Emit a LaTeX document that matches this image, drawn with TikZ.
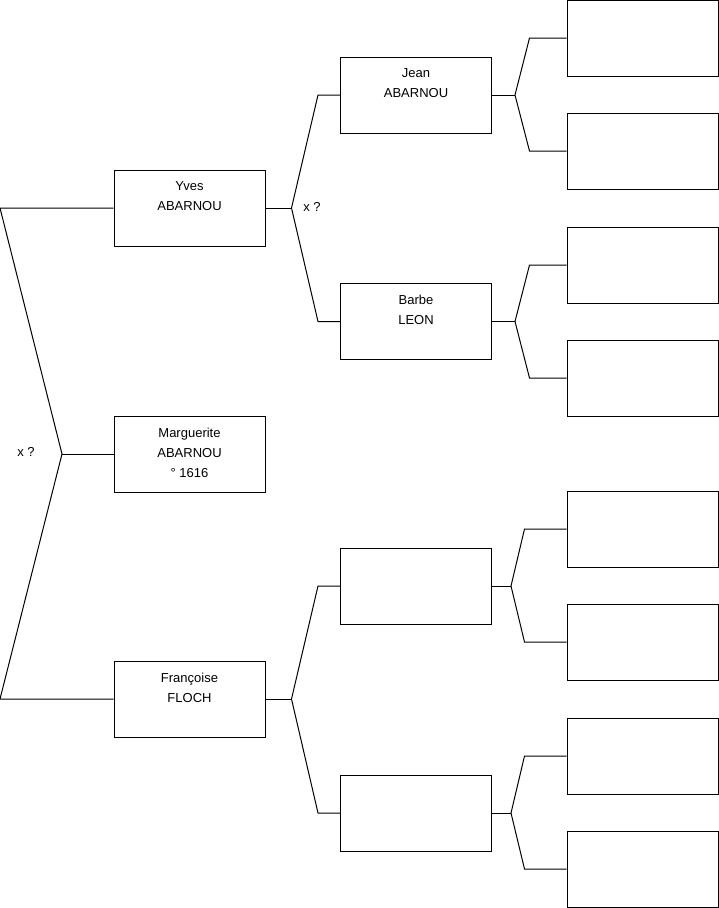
\documentclass[tikz,border=0pt]{standalone}
\usepackage{fontspec}
\setmainfont{Liberation Sans}
\usetikzlibrary{positioning}
\newcommand{\pers}[1]{\parbox[c][76pt][t]{151pt}{\centering\vspace*{12pt}#1}}
\tikzset{
 box/.style={draw, line width=1pt, minimum width=151pt, minimum height=76pt, inner sep=0pt, font=\fontsize{13}{20}\selectfont},
 link/.style={line width=1pt},
 mark x/.style={font=\fontsize{13}{16}\selectfont, inner sep=0pt},
}
\begin{document}
\begin{tikzpicture}[x=1pt, y=-1pt]
 \useasboundingbox (0,0) rectangle (719,908);
 % generation 1
 \node[box] (yves) at (189.5,208) {\pers{Yves\\ABARNOU}};
 \node[box] (marg) at (189.5,454) {\pers{Marguerite\\ABARNOU\\° 1616}};
 \node[box] (franc) at (189.5,699) {\pers{Françoise\\FLOCH}};
 % generation 2
 \node[box] (jean) at (416,95) {\pers{Jean\\ABARNOU}};
 \node[box] (barbe) at (416,321.5) {\pers{Barbe\\LEON}};
 \node[box] (pf1) at (416,586) {};
 \node[box] (pf2) at (416,813) {};
 % generation 3
 \node[box] (r1) at (642.5,38) {};
 \node[box] (r2) at (642.5,151) {};
 \node[box] (r3) at (642.5,265) {};
 \node[box] (r4) at (642.5,378) {};
 \node[box] (r5) at (642.5,529) {};
 \node[box] (r6) at (642.5,642) {};
 \node[box] (r7) at (642.5,756) {};
 \node[box] (r8) at (642.5,869) {};
 % forks
 \coordinate (f0) at (62,454);
 \coordinate (fy) at (291.5,208);
 \coordinate (ff) at (291.5,699);
 \coordinate (fj) at (515,95);
 \coordinate (fb) at (515,321.5);
 \coordinate (f1) at (511,586);
 \coordinate (f2) at (511,813);
 \draw[link] (yves.west) -- (0,208) -- (f0) -- (0,699) -- (franc.west);
 \draw[link] (f0) -- (marg.west);
 \node[mark x] (x0) at (26,452) {x ?};
 \draw[link] (yves.east) -- (fy);
 \draw[link] (jean.west) -- ++(-22,0) -- (fy) -- ([xshift=-22pt]barbe.west) -- (barbe.west);
 \node[mark x] (x1) at (312,207) {x ?};
 \draw[link] (franc.east) -- (ff);
 \draw[link] (pf1.west) -- ++(-22,0) -- (ff) -- ([xshift=-22pt]pf2.west) -- (pf2.west);
 \draw[link] (jean.east) -- (fj);
 \draw[link] (r1.west) -- ++(-37,0) -- (fj) -- ([xshift=-37pt]r2.west) -- (r2.west);
 \draw[link] (barbe.east) -- (fb);
 \draw[link] (r3.west) -- ++(-37,0) -- (fb) -- ([xshift=-37pt]r4.west) -- (r4.west);
 \draw[link] (pf1.east) -- (f1);
 \draw[link] (r5.west) -- ++(-42,0) -- (f1) -- ([xshift=-42pt]r6.west) -- (r6.west);
 \draw[link] (pf2.east) -- (f2);
 \draw[link] (r7.west) -- ++(-42,0) -- (f2) -- ([xshift=-42pt]r8.west) -- (r8.west);
\end{tikzpicture}
\end{document}
